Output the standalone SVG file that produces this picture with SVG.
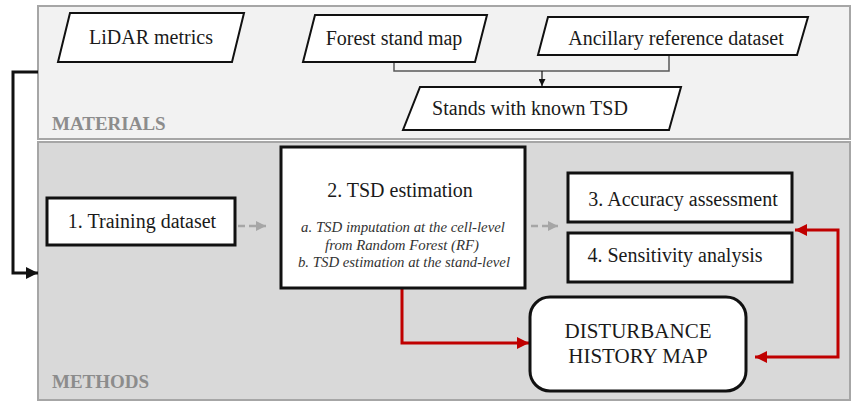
<svg xmlns="http://www.w3.org/2000/svg" width="853" height="402" viewBox="0 0 853 402">
<defs>
<style>
text{font-family:"Liberation Serif","Times New Roman",serif;fill:#1a1a1a}
.io{fill:#fff;stroke:#111;stroke-width:2}
.box{fill:#fff;stroke:#111;stroke-width:3}
.t20{font-size:20px}
.it{font-size:14.8px;font-style:italic;fill:#333}
.lbl{font-size:19px;font-weight:bold;fill:#8c8c8c}
.panel{stroke:#a6a6a6;stroke-width:2}
.red{fill:none;stroke:#c00000;stroke-width:3}
.dash{fill:none;stroke:#a6a6a6;stroke-width:2.5;stroke-dasharray:7,4}
</style>
<marker id="ab" viewBox="0 0 10 10" refX="10" refY="5" markerWidth="4" markerHeight="4" orient="auto"><path d="M0,0L10,5L0,10z" fill="#111"/></marker>
<marker id="abs" viewBox="0 0 10 10" refX="10" refY="5" markerWidth="7" markerHeight="7" orient="auto" markerUnits="userSpaceOnUse"><path d="M0,0L10,5L0,10z" fill="#111"/></marker>
<marker id="ar" viewBox="0 0 10 10" refX="10" refY="5" markerWidth="4.5" markerHeight="4" orient="auto"><path d="M0,0L10,5L0,10z" fill="#c00000"/></marker>
<marker id="arr" viewBox="0 0 10 10" refX="0" refY="5" markerWidth="4.5" markerHeight="4" orient="auto"><path d="M10,0L0,5L10,10z" fill="#c00000"/></marker>
<marker id="ag" viewBox="0 0 10 10" refX="10" refY="5" markerWidth="4" markerHeight="4" orient="auto"><path d="M0,0L10,5L0,10z" fill="#a6a6a6"/></marker>
</defs>
<g id="materials-panel">
<rect class="panel" x="38" y="6" width="812" height="133" fill="#f2f2f2"/>
<text class="lbl" x="52" y="130">MATERIALS</text>
</g>
<g id="methods-panel">
<rect class="panel" x="38" y="142" width="812" height="258" fill="#d9d9d9"/>
<text class="lbl" x="52" y="388">METHODS</text>
</g>
<g id="connectors">
<path d="M394,62V71H669V55" fill="none" stroke="#595959" stroke-width="1.5"/>
<path d="M542,71V86" fill="none" stroke="#111" stroke-width="1.2" marker-end="url(#abs)"/>
<path d="M38,72H13V273H38" fill="none" stroke="#111" stroke-width="3" marker-end="url(#ab)"/>
<path class="dash" d="M238,226H266" marker-end="url(#ag)"/>
<path class="dash" d="M531,226H558" marker-end="url(#ag)"/>
<path class="red" d="M402,288V343H529" marker-end="url(#ar)"/>
<path class="red" d="M795,230H838V357H755" marker-start="url(#arr)" marker-end="url(#ar)"/>
</g>
<g id="lidar">
<polygon class="io" points="70,13 244,13 232,62 58,62"/>
<text class="t20" x="151" y="44" text-anchor="middle">LiDAR metrics</text>
</g>
<g id="forest-stand">
<polygon class="io" points="315,15 487,15 475,62 303,62"/>
<text class="t20" x="394" y="45" text-anchor="middle">Forest stand map</text>
</g>
<g id="ancillary">
<polygon class="io" points="548,17 808,17 797,55 538,55"/>
<text class="t20" x="676" y="45" text-anchor="middle">Ancillary reference dataset</text>
</g>
<g id="stands">
<polygon class="io" points="420,87 681,87 669,130 403,130"/>
<text class="t20" x="530" y="115" text-anchor="middle">Stands with known TSD</text>
</g>
<g id="training">
<rect class="box" x="47" y="198" width="188" height="47"/>
<text class="t20" x="142" y="228" text-anchor="middle">1. Training dataset</text>
</g>
<g id="tsd-estimation">
<rect class="box" x="281" y="147" width="244" height="141"/>
<text class="t20" x="400" y="197" text-anchor="middle">2. TSD estimation</text>
<text class="it" x="403" y="232" text-anchor="middle">a. TSD imputation at the cell-level</text>
<text class="it" x="402" y="250" text-anchor="middle">from Random Forest (RF)</text>
<text class="it" x="404" y="267" text-anchor="middle">b. TSD estimation at the stand-level</text>
</g>
<g id="accuracy">
<rect class="box" x="568" y="173" width="224" height="49"/>
<text class="t20" x="683" y="206" text-anchor="middle">3. Accuracy assessment</text>
</g>
<g id="sensitivity">
<rect class="box" x="568" y="233" width="224" height="49"/>
<text class="t20" x="675" y="262" text-anchor="middle">4. Sensitivity analysis</text>
</g>
<g id="disturbance-map">
<rect class="box" x="530" y="297" width="216" height="94" rx="20"/>
<text x="638" y="338" text-anchor="middle" font-size="21">DISTURBANCE</text>
<text x="638" y="363" text-anchor="middle" font-size="21">HISTORY MAP</text>
</g>
</svg>
